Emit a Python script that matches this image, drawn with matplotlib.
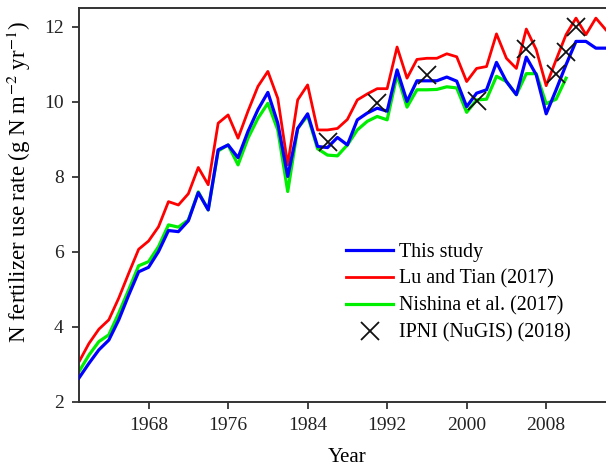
import matplotlib
matplotlib.use("Agg")
import matplotlib.pyplot as plt

years = list(range(1961, 2015))
this_study = [2.64, 3.03, 3.39, 3.65, 4.19, 4.85, 5.47, 5.59, 6.01, 6.57,
              6.54, 6.83, 7.58, 7.12, 8.72, 8.85, 8.51, 9.21, 9.79, 10.25,
              9.43, 8.01, 9.29, 9.68, 8.81, 8.78, 9.05, 8.85, 9.52, 9.70,
              9.83, 9.75, 10.85, 10.01, 10.56, 10.56, 10.56, 10.66, 10.55, 9.87,
              10.23, 10.32, 11.05, 10.54, 10.19, 11.19, 10.72, 9.68, 10.32, 10.99,
              11.61, 11.61, 11.43, 11.43]
lu_tian = [3.07, 3.56, 3.94, 4.19, 4.77, 5.43, 6.07, 6.29, 6.67, 7.34,
           7.25, 7.55, 8.25, 7.79, 9.43, 9.65, 9.03, 9.75, 10.41, 10.81,
           10.09, 8.32, 10.05, 10.45, 9.25, 9.25, 9.29, 9.53, 10.05, 10.21,
           10.35, 10.35, 11.46, 10.63, 11.13, 11.16, 11.16, 11.28, 11.20, 10.54,
           10.89, 10.94, 11.81, 11.16, 10.89, 11.94, 11.39, 10.43, 11.12, 11.79,
           12.23, 11.79, 12.23, 11.92]
nishina_years = list(range(1961, 2011))
nishina = [2.81, 3.25, 3.61, 3.79, 4.37, 4.99, 5.63, 5.74, 6.14, 6.72,
           6.66, 6.85, 7.60, 7.12, 8.69, 8.85, 8.32, 9.03, 9.56, 9.96,
           9.25, 7.61, 9.29, 9.63, 8.75, 8.58, 8.56, 8.85, 9.25, 9.48,
           9.61, 9.52, 10.72, 9.86, 10.32, 10.32, 10.33, 10.40, 10.37, 9.72,
           10.05, 10.07, 10.68, 10.54, 10.19, 10.75, 10.75, 9.95, 10.07, 10.63]
ipni_years = [1986, 1991, 1996, 2001, 2006, 2009, 2010, 2011]
ipni = [8.94, 9.96, 10.72, 10.01, 11.40, 10.75, 11.32, 11.99]

xticks = [1968, 1976, 1984, 1992, 2000, 2008]
yticks = [2, 4, 6, 8, 10, 12]

plt.rcParams['font.family'] = ['Liberation Serif', 'DejaVu Serif']
plt.rcParams['mathtext.fontset'] = 'stix'

fig = plt.figure(figsize=(6.06, 4.66), dpi=100)
W, H = 606, 466
left = 79 / W
right_px = 79 + 54 * 9.94
bottom = 1 - 402 / H
top = 1 - 8 / H
ax = fig.add_axes([left, bottom, right_px / W - left, top - bottom])
axw = right_px - 79

ax.plot(years, this_study, color='#0000FF', lw=2.3, label='This study', zorder=3)
ax.plot(years, lu_tian, color='#FF0000', lw=2.0, label='Lu and Tian (2017)', zorder=2)
ax.plot(nishina_years, nishina, color='#00EE00', lw=2.3, label='Nishina et al. (2017)', zorder=2)
ax.plot(ipni_years, ipni, linestyle='none', marker='x', color='#111111', ms=12.5, mew=1.3,
        label='IPNI (NuGIS) (2018)', zorder=4)

ax.set_xlim(1961, 2015)
ax.set_ylim(2, 12.5)
ax.set_xticks(xticks)
ax.set_yticks(yticks)
ax.tick_params(direction='out', length=5, width=1.2, labelsize=14, colors='#222222', pad=6)
for s in ax.spines.values():
    s.set_linewidth(1.4)
    s.set_color('#333333')

ax.set_xlabel('Year', fontsize=15, labelpad=10)
ax.set_ylabel(r'N fertilizer use rate (g N m$^{-2}$ yr$^{-1}$)', fontsize=16.5)
ax.yaxis.set_label_coords((33 - 79) / axw, (402 - 182) / 394)

leg = ax.legend(loc='upper left', bbox_to_anchor=(346 / W, 1 - 243 / H),
                bbox_transform=fig.transFigure, frameon=False, fontsize=14.4,
                handlelength=2.35, handletextpad=0.3, labelspacing=0.38,
                borderpad=0, borderaxespad=0)

fig.savefig('out.png', dpi=100)
